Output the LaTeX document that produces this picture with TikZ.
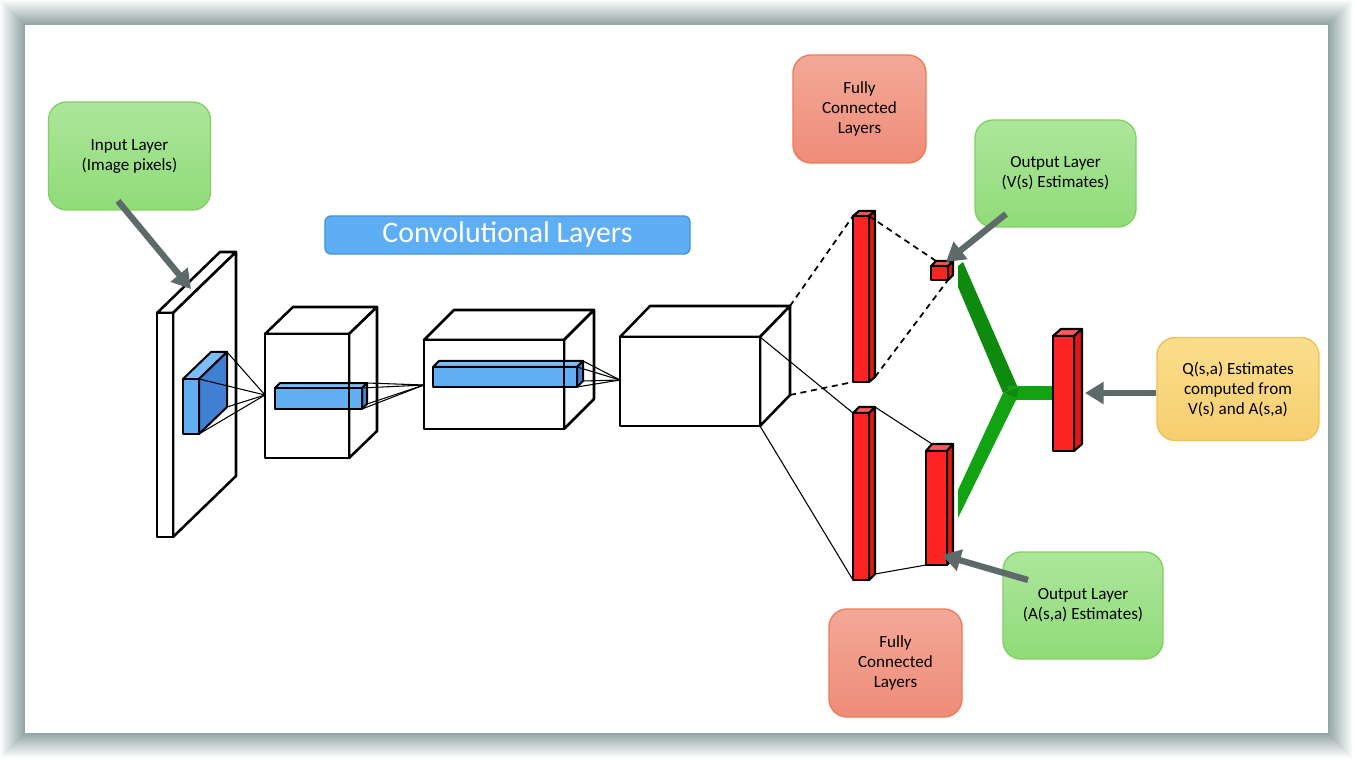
\documentclass[tikz,border=0pt]{standalone}
\usepackage{fontspec}
\setmainfont{Carlito}
\usetikzlibrary{arrows.meta}
\definecolor{shadowc}{HTML}{7F9494}
\definecolor{grntop}{HTML}{ACE69B}
\definecolor{grnbot}{HTML}{90DB78}
\definecolor{grnedge}{HTML}{82D062}
\definecolor{fctop}{HTML}{F4A898}
\definecolor{fcbot}{HTML}{EE8C78}
\definecolor{fcedge}{HTML}{EE7B55}
\definecolor{qtop}{HTML}{FADE8C}
\definecolor{qbot}{HTML}{F7CE6E}
\definecolor{qedge}{HTML}{F2BF5A}
\definecolor{convfill}{HTML}{5EAEF6}
\definecolor{convedge}{HTML}{4690DA}
\definecolor{arrowc}{HTML}{5E6A6A}
\definecolor{bluefront}{HTML}{62AEF2}
\definecolor{blueside}{HTML}{3F80D2}
\definecolor{bluetop}{HTML}{7CBDF7}
\definecolor{redfront}{HTML}{FF2424}
\definecolor{redside}{HTML}{E41616}
\definecolor{redtop}{HTML}{FF5A5A}
\definecolor{armdark}{HTML}{0E8A0E}
\definecolor{armlight}{HTML}{12A312}
\newcommand\drawcuboid[8]{%
  \coordinate (#1-ftl) at (#2,#3);
  \coordinate (#1-ftr) at ({#2+#4},#3);
  \coordinate (#1-fbr) at ({#2+#4},{#3+#5});
  \coordinate (#1-fbl) at (#2,{#3+#5});
  \coordinate (#1-btl) at ({#2+#6},{#3+#7});
  \coordinate (#1-btr) at ({#2+#4+#6},{#3+#7});
  \coordinate (#1-bbr) at ({#2+#4+#6},{#3+#5+#7});
  \path[#8top] (#1-ftl) -- (#1-btl) -- (#1-btr) -- (#1-ftr) -- cycle;
  \path[#8side] (#1-ftr) -- (#1-btr) -- (#1-bbr) -- (#1-fbr) -- cycle;
  \path[#8front] (#1-ftl) rectangle (#1-fbr);
}
\begin{document}
\begin{tikzpicture}[x=0.75pt,y=-0.75pt,
  wtop/.style={fill=white,draw=black,line width=1.9pt,line join=round},
  wside/.style={wtop},
  wfront/.style={wtop},
  wedge/.style={draw=black,line width=1.9pt},
  btop/.style={fill=bluetop,draw=black,line width=1.5pt,line join=round},
  bside/.style={fill=blueside,draw=black,line width=1.5pt,line join=round},
  bfront/.style={fill=bluefront,draw=black,line width=1.5pt,line join=round},
  rtop/.style={fill=redtop,draw=black,line width=1.6pt,line join=round},
  rside/.style={fill=redside,draw=black,line width=1.6pt,line join=round},
  rfront/.style={fill=redfront,draw=black,line width=1.6pt,line join=round},
  thinline/.style={draw=black,line width=0.8pt},
  dashline/.style={draw=black,line width=1.3pt,dash pattern=on 4.5pt off 3.5pt},
  grayarrow/.style={draw=arrowc,line width=4.7pt,-{Triangle[length=14pt,width=16pt]}},
  label/.style={rounded corners=13.5pt,line width=1pt,align=center,
    font=\fontsize{12.8}{15}\selectfont,text=black},
  greenbox/.style={label,top color=grntop,bottom color=grnbot,draw=grnedge},
  fcbox/.style={label,top color=fctop,bottom color=fcbot,draw=fcedge},
  qbox/.style={label,top color=qtop,bottom color=qbot,draw=qedge}
]
\useasboundingbox (0,0) rectangle (1357,759);
% frame with shadow
\fill[white] (0,0) rectangle (1357,759);
\foreach \i in {25,...,1}{
  \pgfmathtruncatemacro\pp{88-3.4*\i}
  \fill[shadowc!\pp!white] (25-\i,25-\i) rectangle (1328+\i,733+\i);
}
\fill[white] (25,25) rectangle (1328,733);

% input slab and blue box
\drawcuboid{s}{157}{313}{16}{224}{63}{-61}{w}
\drawcuboid{b1}{183}{379}{16}{55}{28}{-27}{b}
% cube 2
\drawcuboid{c2}{265}{334}{84}{124}{28}{-27}{w}
\drawcuboid{b2}{275}{388}{87}{21}{5}{-5}{b}
\draw[wedge] (c2-ftr) -- (c2-fbr);
% cube 3
\drawcuboid{c3}{424}{340}{140}{89}{30}{-30}{w}
\drawcuboid{b3}{433}{367}{144}{20}{6}{-6}{b}
\draw[wedge] (c3-ftr) -- (c3-fbr);
% cube 4
\drawcuboid{c4}{620}{337}{140}{89}{30}{-31}{w}
% fully connected bars
\drawcuboid{f1}{853}{216}{16}{166}{6}{-5}{r}
\drawcuboid{f2}{853}{413}{16}{167}{6}{-6}{r}
% outputs
\drawcuboid{v}{931}{266}{17}{14}{5}{-5}{r}
\drawcuboid{a}{926}{451}{21}{114}{6}{-7}{r}
% green aggregation
\fill[armdark] (958,287) -- (958,266) -- (963,262) -- (1018,388) -- (1003,393) -- cycle;
\fill[armlight] (1003,393) -- (1017,398) -- (958,518) -- (958,490) -- cycle;
\fill[armlight] (1008,386) rectangle (1054,400);
\fill[armdark] (1003,393) -- (1018,388) -- (1017,398) -- cycle;
\drawcuboid{q}{1053}{336}{21}{115}{8}{-7}{r}

% connection lines
\coordinate (c2in) at (265,395);
\coordinate (c3in) at (424,385);
\coordinate (c4in) at (620,380);
\foreach \c in {ftr,btr,bbr,fbr}{
  \draw[thinline] (b1-\c) -- (c2in);
  \draw[thinline] (b2-\c) -- (c3in);
  \draw[thinline] (b3-\c) -- (c4in);
}
\draw[dashline] (c4-btr) -- (f1-ftl);
\draw[dashline] (c4-bbr) -- (f1-fbl);
\draw[dashline] (f1-ftr) -- (v-btl);
\draw[dashline] (f1-bbr) -- (v-fbr);
\draw[thinline] (c4-ftr) -- (f2-ftl);
\draw[thinline] (c4-fbr) -- (f2-fbl);
\draw[thinline] (f2-btr) -- (a-btl);
\draw[thinline] (f2-bbr) -- (a-fbl);

% labels
\node[greenbox,minimum width=121.5pt,minimum height=81pt] (inp) at (129.5,156) {Input Layer\\(Image pixels)};
\node[fcbox,minimum width=99.75pt,minimum height=81pt] (fctop) at (859.5,109) {Fully\\Connected\\Layers};
\node[greenbox,minimum width=120.75pt,minimum height=80.25pt] (outv) at (1055.5,173.5) {Output Layer\\(V(s) Estimates)};
\node[greenbox,minimum width=120pt,minimum height=80.25pt] (outa) at (1083,605.5) {Output Layer\\(A(s,a) Estimates)};
\node[fcbox,minimum width=99.75pt,minimum height=81pt] (fcbot) at (895.5,663) {Fully\\Connected\\Layers};
\node[qbox,minimum width=121.5pt,minimum height=77.25pt] (qest) at (1238,389) {Q(s,a) Estimates\\computed from\\V(s) and A(s,a)};
\node[rounded corners=4.5pt,fill=convfill,draw=convedge,line width=1pt,
  minimum width=273.75pt,minimum height=28.5pt,text=white,
  font=\fontsize{22.4}{26}\selectfont] (conv) at (507.5,235) {Convolutional Layers};

% gray arrows
\coordinate (inpA) at (118,201);
\coordinate (inpT) at (191,289);
\coordinate (outvA) at (1006,214);
\coordinate (outvT) at (946,262);
\coordinate (outaA) at (1028,580);
\coordinate (outaT) at (942,555);
\coordinate (qestT) at (1085,393);
\draw[grayarrow] (inpA) -- (inpT);
\draw[grayarrow] (outvA) -- (outvT);
\draw[grayarrow] (outaA) -- (outaT);
\draw[grayarrow] (qest.west |- qestT) -- (qestT);
\end{tikzpicture}
\end{document}
